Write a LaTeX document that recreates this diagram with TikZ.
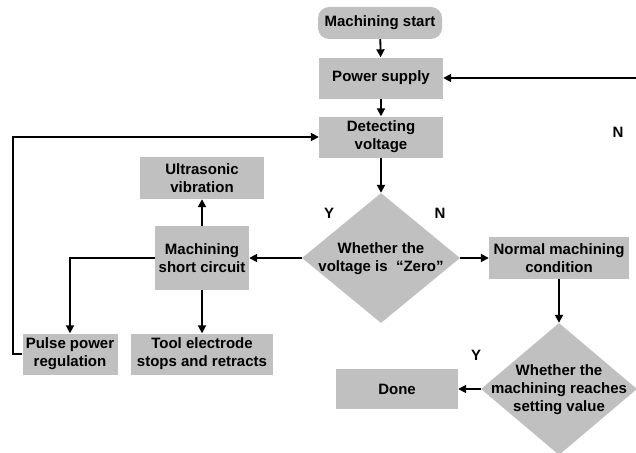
\documentclass[tikz,border=0pt]{standalone}
\usepackage{fontspec}
\setmainfont{Liberation Sans}
\usetikzlibrary{shapes.geometric,arrows.meta}
\definecolor{boxgray}{RGB}{192,192,192}
\tikzset{
  every node/.style={font=\bfseries\fontsize{15}{18}\selectfont},
  stepbox/.style={fill=boxgray, inner sep=0pt, align=center},
  decision/.style={diamond, fill=boxgray, inner sep=0pt},
  dtext/.style={inner sep=0pt, align=center},
  flow/.style={line width=1.8pt, -{Triangle[length=8pt,width=8pt]}},
  lbl/.style={inner sep=0pt}
}
\begin{document}
\begin{tikzpicture}[x=1pt,y=-1pt]
\useasboundingbox (0,0) rectangle (636,452);

% main column
\node[stepbox, rounded corners=11pt, minimum width=124pt, minimum height=32pt] (start) at (380,23) {Machining start};
\node[stepbox, minimum width=124pt, minimum height=41pt] (power) at (381,78) {Power supply};
\node[stepbox, minimum width=124pt, minimum height=41pt] (detect) at (381,137) {Detecting\\voltage};
\node[decision, minimum width=158pt, minimum height=130pt] (zero) at (381,258) {};
\node[dtext] (zerotxt) at (381,259) {Whether the\\voltage is\ \ “Zero”};

% normal branch
\node[stepbox, minimum width=140pt, minimum height=42pt] (normal) at (559,258) {Normal machining\\condition};
\node[decision, minimum width=156pt, minimum height=132pt] (reach) at (559,389) {};
\node[dtext] (reachtxt) at (559,390) {Whether the\\machining reaches\\setting value};
\node[stepbox, minimum width=122pt, minimum height=40pt] (done) at (397,389) {Done};

% short circuit branch
\node[stepbox, minimum width=94pt, minimum height=64pt] (short) at (202,258) {Machining\\short circuit};
\node[stepbox, minimum width=124pt, minimum height=42pt] (ultra) at (202,178) {Ultrasonic\\vibration};
\node[stepbox, minimum width=95pt, minimum height=41pt] (pulse) at (70,354) {Pulse power\\regulation};
\node[stepbox, minimum width=142pt, minimum height=41pt] (tool) at (202,354) {Tool electrode\\stops and retracts};

% branch labels
\node[lbl] (ly1) at (329,213) {Y};
\node[lbl] (ln1) at (440,213) {N};
\node[lbl] (ln2) at (618,132) {N};
\node[lbl] (ly2) at (476,355) {Y};

% loop entry from the right edge
\coordinate (ret) at (640,78);

% connectors
\draw[flow] (start) -- (power);
\draw[flow] (power) -- (detect);
\draw[flow] (detect) -- (zero.north);
\draw[flow] (zero.west) -- (short.east);
\draw[flow] (zero.east) -- (normal.west);
\draw[flow] (normal) -- (reach.north);
\draw[flow] (reach.west) -- (done.east);
\draw[flow] (short) -- (ultra);
\draw[flow] (short) -- (tool);
\draw[flow] (short.west) -| (pulse.north);
\draw[flow] (pulse.west) -- ++(-9,0) |- (detect.west);
\draw[flow] (ret) -- (power.east);
\end{tikzpicture}
\end{document}
